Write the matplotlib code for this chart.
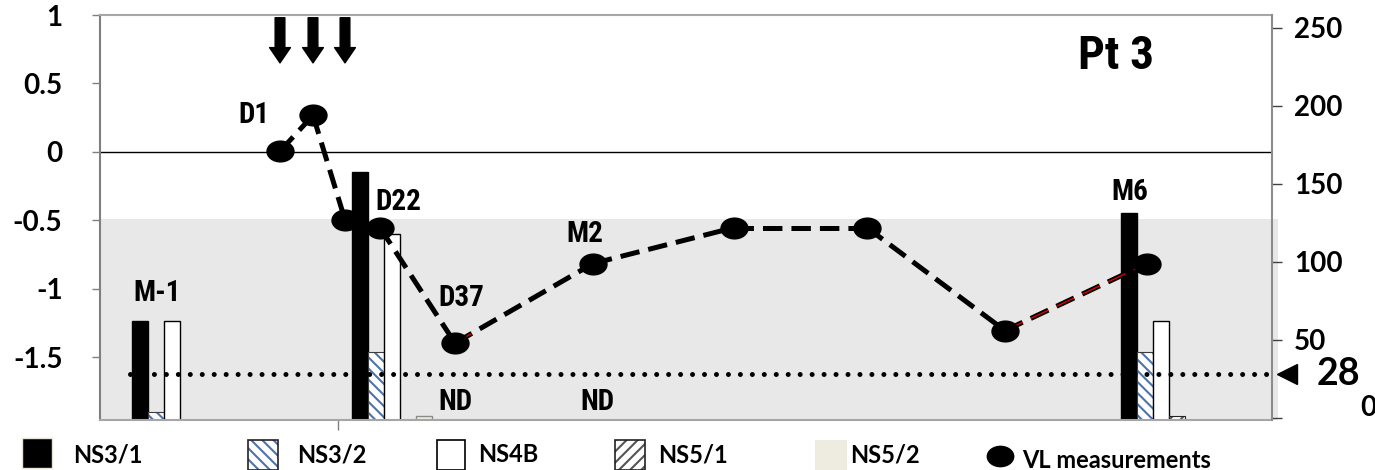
import matplotlib
matplotlib.use("Agg")
import matplotlib.pyplot as plt
from matplotlib.path import Path
from matplotlib.patches import Rectangle
from matplotlib.transforms import Affine2D

# viral load measurements (right axis) on the study time scale
vl_time = [1.80, 2.13, 2.45, 2.80, 3.55, 4.93, 6.34, 7.67, 9.05, 10.47]
vl_values = [171, 194, 127, 122, 48, 99, 122, 122, 56, 99]

# antibody responses per protein at three visits (left axis); None = not detected
visit_time = [0.40, 2.60, 10.29]
proteins = ["NS3/1", "NS3/2", "NS4B", "NS5/1", "NS5/2"]
ns3_1 = [-1.24, -0.15, -0.45]
ns3_2 = [-1.90, -1.46, -1.46]
ns4b = [-1.24, -0.60, -1.24]
ns5_1 = [None, None, -1.93]
ns5_2 = [None, -1.93, None]

left_ticks = [1, 0.5, 0, -0.5, -1, -1.5]
left_ticklabels = ["1", "0.5", "0", "-0.5", "-1", "-1.5"]
right_ticks = [0, 50, 100, 150, 200, 250]
threshold = 28
n_doses = 3

W, H = 1375, 470
BASE = -1.96
BAR_W = 0.16

plt.rcParams["font.family"] = ["Lato", "DejaVu Sans"]
plt.rcParams["font.weight"] = "bold"
plt.rcParams["lines.scale_dashes"] = False
plt.rcParams["hatch.linewidth"] = 1.5
NARROW = ["Liberation Sans Narrow", "Roboto Condensed", "DejaVu Sans"]

fig = plt.figure(figsize=(W / 100, H / 100), dpi=100)
ax = fig.add_axes([100 / W, 1 - 420 / H, 1172 / W, 405 / H])
ax.set_xlim(0, 11.72)
ax.set_ylim(BASE, 1.0)

# shaded band below the response cut-off
ax.add_patch(Rectangle((0, BASE), 11.78, -0.49 - BASE, facecolor="#e8e8e8",
                       edgecolor="none", clip_on=False, zorder=0))
ax.axhline(0, color="black", lw=1.0, zorder=1)


def draw_bars(axis, xs, tops, face, edge, hatch=None, hatch_color=None, lw=1.0):
    xs2, hs = [], []
    for x, t in zip(xs, tops):
        if t is None:
            continue
        xs2.append(x)
        hs.append(t - BASE)
    if hatch:
        axis.bar(xs2, hs, bottom=BASE, width=BAR_W, facecolor=face,
                 edgecolor=hatch_color, hatch=hatch, linewidth=0, zorder=2)
        axis.bar(xs2, hs, bottom=BASE, width=BAR_W, fill=False,
                 edgecolor=edge, linewidth=lw, zorder=2)
    else:
        axis.bar(xs2, hs, bottom=BASE, width=BAR_W, facecolor=face,
                 edgecolor=edge, linewidth=lw, zorder=2)


series = [ns3_1, ns3_2, ns4b, ns5_1, ns5_2]
bar_styles = [
    dict(face="black", edge="black"),
    dict(face="white", edge="#3c3c3c", hatch="\\\\\\", hatch_color="#4f72ad", lw=0.8),
    dict(face="white", edge="black", lw=1.0),
    dict(face="white", edge="#222222", hatch="///", hatch_color="#555555", lw=0.8),
    dict(face="#eeece1", edge="#8a8a8a", lw=1.0),
]
for k, (vals, st) in enumerate(zip(series, bar_styles)):
    xs = [v + k * BAR_W for v in visit_time]
    draw_bars(ax, xs, vals, **st)

# dosing arrows above the first measurements
for t in vl_time[:n_doses]:
    ax.annotate("", xy=(t, 0.65), xytext=(t, 0.98),
                arrowprops=dict(arrowstyle="simple,head_width=15,head_length=11,tail_width=7",
                                color="black", mutation_scale=1, shrinkA=0, shrinkB=0))

# time point labels
lab_kw = dict(fontsize=21, fontweight="bold", family=NARROW, ha="center", va="center")
ax.text(0.57, -1.03, "M-1", **lab_kw)
ax.text(1.54, 0.27, "D1", **lab_kw)
ax.text(2.98, -0.37, "D22", **lab_kw)
ax.text(3.61, -1.07, "D37", **lab_kw)
ax.text(4.85, -0.60, "M2", **lab_kw)
ax.text(3.55, -1.83, "ND", **lab_kw)
ax.text(4.97, -1.83, "ND", **lab_kw)
ax.text(10.30, -0.29, "M6", **lab_kw)
ax.text(10.16, 0.70, "Pt 3", fontsize=34, fontweight="bold", family=NARROW,
        ha="center", va="center")

ax.set_yticks(left_ticks)
ax.set_yticklabels(left_ticklabels)
ax.set_xticks([2.38])
ax.set_xticklabels([""])
ax.tick_params(axis="y", direction="out", length=6, width=1, color="#808080",
               pad=21, labelsize=20)
ax.tick_params(axis="x", direction="out", length=7, width=1, color="#808080")
ax.spines["left"].set_color("#7f7f7f")
ax.spines["top"].set_color("#a6a6a6")
ax.spines["bottom"].set_color("#a6a6a6")
ax.spines["right"].set_visible(False)
for sp in ax.spines.values():
    sp.set_linewidth(1.5)

# viral load on the right axis
ax2 = ax.twinx()
ax2.set_ylim(-1.3, 258.3)
for sp in ["left", "top", "bottom"]:
    ax2.spines[sp].set_visible(False)
ax2.spines["right"].set_color("#8c8c8c")
ax2.spines["right"].set_linewidth(1.5)
ax2.set_yticks(right_ticks)
ax2.set_yticklabels([""] + [str(v) for v in right_ticks[1:]])
ax2.tick_params(axis="y", direction="out", length=7, width=1, color="#404040",
                pad=9, labelsize=20)

# detection limit
ax2.plot([0.30, 11.73], [threshold, threshold], color="black", lw=3.6,
         dashes=(0.01, 8.6), dash_capstyle="round", clip_on=False, zorder=3)
ax2.plot([11.87], [threshold], marker="<", ms=14, color="black",
         clip_on=False, zorder=3)
ax2.text(12.17, threshold, str(threshold), fontsize=27, fontweight="bold",
         ha="left", va="center")
ax2.text(12.60, 6.4, "0", fontsize=20, fontweight="bold", ha="left", va="center")

dash = (14, 6.5)
for i in range(len(vl_time) - 1):
    ax2.plot(vl_time[i:i + 2], vl_values[i:i + 2], color="black", lw=3.6,
             dashes=dash, dash_capstyle="butt", zorder=4)
# red inner stroke on a few dashes
seg = 8
ax2.plot(vl_time[seg:seg + 2], vl_values[seg:seg + 2], color="#e00000", lw=1.0,
         dashes=dash, dash_capstyle="butt", zorder=4)
t0, t1 = vl_time[4], vl_time[5]
v0, v1 = vl_values[4], vl_values[5]
ax2.plot([t0, t0 + 0.12 * (t1 - t0)], [v0, v0 + 0.12 * (v1 - v0)], color="#e00000",
         lw=1.0, dashes=dash, dash_capstyle="butt", zorder=4)

ellipse = Path.unit_circle().transformed(Affine2D().scale(1.3, 1.0))
ax2.plot(vl_time, vl_values, linestyle="none", marker=ellipse, ms=19.4,
         color="black", zorder=5)

# legend row, laid out in pixel units
lg = fig.add_axes([0, 0, 1, 1])
lg.set_xlim(0, W)
lg.set_ylim(H, 0)
lg.axis("off")
lg.add_patch(Rectangle((22, 438), 30, 30, facecolor="black", edgecolor="#e8e4d8", lw=1))
lg.add_patch(Rectangle((248, 440), 30, 30, facecolor="white", edgecolor="#4f72ad",
                       hatch="\\\\\\", lw=0))
lg.add_patch(Rectangle((248, 440), 30, 30, fill=False, edgecolor="#222222", lw=1.2))
lg.add_patch(Rectangle((437, 440), 28, 30, facecolor="white", edgecolor="black", lw=1.2))
lg.add_patch(Rectangle((615, 440), 30, 30, facecolor="white", edgecolor="#555555",
                       hatch="///", lw=0))
lg.add_patch(Rectangle((615, 440), 30, 30, fill=False, edgecolor="#222222", lw=1.2))
lg.add_patch(Rectangle((815, 440), 32, 30, facecolor="#eeece1", edgecolor="none"))
lg.plot([1000], [456], linestyle="none", marker=ellipse, ms=19, color="black")

leg_x = [73, 297, 478, 658, 850]
for x, name in zip(leg_x, proteins):
    lg.text(x, 455, name, fontsize=17, fontweight="bold", ha="left", va="center")
lg.text(1022, 460, "VL measurements", fontsize=17, fontweight="bold",
        ha="left", va="center")

fig.savefig("out.png", dpi=100)
